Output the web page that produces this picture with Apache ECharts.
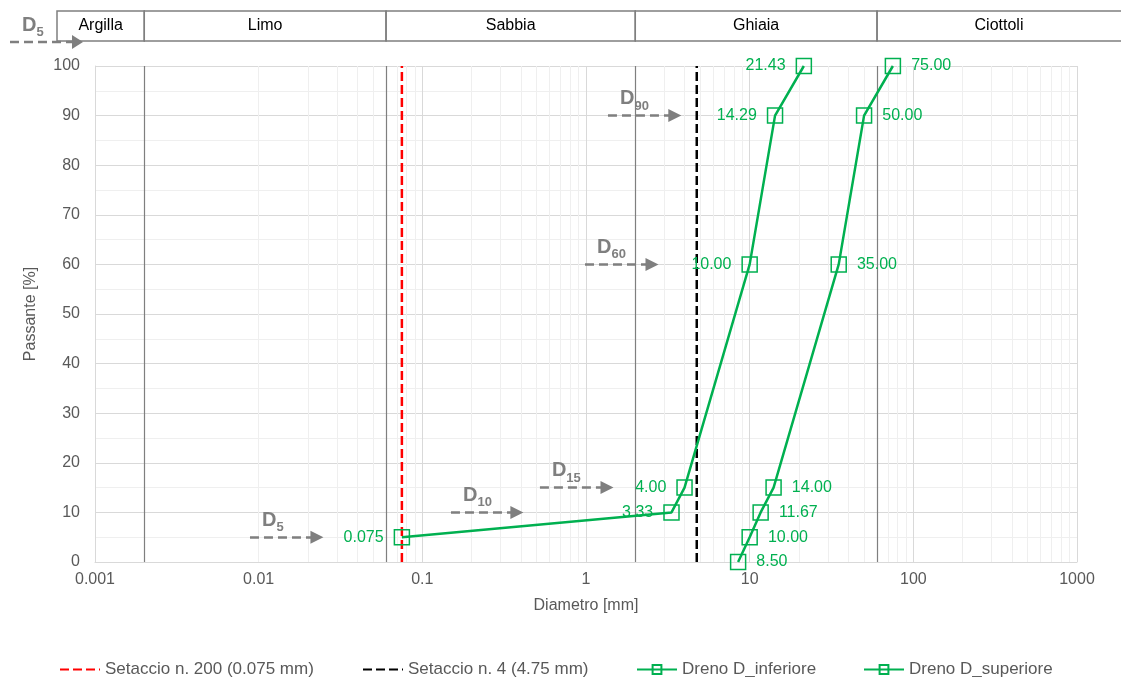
<!DOCTYPE html>
<html><head><meta charset="utf-8">
<script src="https://cdn.jsdelivr.net/npm/echarts@6/dist/echarts.min.js"></script>
<style>html,body{margin:0;padding:0;background:#fff}#c{width:1121px;height:677px}</style>
</head><body><div id="c"></div>
<script>
// ---- data ----
const xTickLabels = ['0.001','0.01','0.1','1','10','100','1000'];
const yTicks = [0,10,20,30,40,50,60,70,80,90,100];
const infD = [0.075, 3.33, 4.00, 10.00, 14.29, 21.43];
const infP = [5, 10, 15, 60, 90, 100];
const infLabels = ['0.075','3.33','4.00','10.00','14.29','21.43'];
const supD = [8.50, 10.00, 11.67, 14.00, 35.00, 50.00, 75.00];
const supP = [0, 5, 10, 15, 60, 90, 100];
const supLabels = ['8.50','10.00','11.67','14.00','35.00','50.00','75.00'];
const sieve200 = 0.075;
const sieve4 = 4.75;
const classNames = ['Argilla','Limo','Sabbia','Ghiaia','Ciottoli'];
const classBounds = [0.002, 0.06, 2, 60];
const dSubs = ['5','10','15','60','90'];
const dLevels = [5, 10, 15, 60, 90];
const dFrom = [0.00885, 0.1496, 0.523, 0.986, 1.362];
const dTo = [0.0227, 0.378, 1.344, 2.53, 3.49];

const GREEN = '#00b050';
const GRAY = '#7f7f7f';
const TXT = '#595959';
const FONT = 'Arial, "Liberation Sans", sans-serif';

// minor gridline positions (2..9 within each decade)
const minorX = [];
for (let e = -3; e < 3; e++) for (let k = 2; k <= 9; k++) minorX.push(+(k * Math.pow(10, e)).toPrecision(3));

const chart = echarts.init(document.getElementById('c'), null, {renderer: 'canvas'});

const dRich = {
  d: {fontSize: 20, fontWeight: 'bold', color: GRAY, fontFamily: FONT, padding: [0, 0, 4, 0]},
  s: {fontSize: 13, fontWeight: 'bold', color: GRAY, fontFamily: FONT, verticalAlign: 'bottom'}
};
const dRichG = {
  d: {fontSize: 20, fontWeight: 'bold', fill: GRAY, fontFamily: FONT, padding: [0, 0, 4, 0]},
  s: {fontSize: 13, fontWeight: 'bold', fill: GRAY, fontFamily: FONT, verticalAlign: 'bottom'}
};

const arrowLines = dSubs.map((s, i) => ([
  {coord: [dFrom[i], dLevels[i]], label: {formatter: '{d|D}{s|' + s + '}'}},
  {coord: [dTo[i], dLevels[i]]}
]));

const legendBase = {
  orient: 'horizontal', itemWidth: 40, itemHeight: 11, padding: 0,
  textStyle: {color: TXT, fontSize: 17, fontFamily: FONT}
};

const option = {
  animation: false,
  grid: {left: 95, right: 44, top: 66, bottom: 115},
  xAxis: {
    type: 'log', logBase: 10, min: 0.001, max: 1000,
    name: 'Diametro [mm]', nameLocation: 'middle', nameGap: 36,
    nameTextStyle: {color: TXT, fontSize: 16, fontFamily: FONT},
    axisLine: {show: true, lineStyle: {color: '#d9d9d9', width: 1}},
    axisTick: {show: false},
    axisLabel: {color: TXT, fontSize: 16, fontFamily: FONT, margin: 10,
      formatter: v => xTickLabels[Math.round(Math.log10(v)) + 3]},
    splitLine: {show: true, lineStyle: {color: '#d9d9d9', width: 1}},
    minorTick: {show: false}, minorSplitLine: {show: false}
  },
  yAxis: {
    type: 'value', min: 0, max: 100, interval: 10,
    name: 'Passante [%]', nameLocation: 'middle', nameGap: 56,
    nameTextStyle: {color: TXT, fontSize: 16, fontFamily: FONT},
    axisLine: {show: true, lineStyle: {color: '#d9d9d9', width: 1}},
    axisTick: {show: false},
    axisLabel: {color: TXT, fontSize: 16, fontFamily: FONT, margin: 15},
    splitLine: {show: true, lineStyle: {color: '#d9d9d9', width: 1}},
    minorTick: {show: false, splitNumber: 2},
    minorSplitLine: {show: true, lineStyle: {color: '#efefef', width: 1}}
  },
  legend: [
    Object.assign({data: [{name: 'Setaccio n. 200 (0.075 mm)', itemStyle: {opacity: 0}}], left: 59, top: 661}, legendBase),
    Object.assign({data: [{name: 'Setaccio n. 4 (4.75 mm)', itemStyle: {opacity: 0}}], left: 362, top: 661}, legendBase),
    Object.assign({data: ['Dreno D_inferiore'], left: 636, top: 661}, legendBase),
    Object.assign({data: ['Dreno D_superiore'], left: 863, top: 661}, legendBase)
  ],
  series: [
    { // minor vertical gridlines
      type: 'line', data: [], silent: true, z: 0,
      markLine: {silent: true, symbol: 'none', animation: false, label: {show: false},
        lineStyle: {color: '#efefef', width: 1, type: 'solid'},
        data: minorX.filter(v => classBounds.indexOf(v) < 0).map(v => ({xAxis: v}))}
    },
    { // soil class boundaries
      type: 'line', data: [], silent: true, z: 1,
      markLine: {silent: true, symbol: 'none', animation: false, label: {show: false},
        lineStyle: {color: GRAY, width: 1.2, type: 'solid'},
        data: classBounds.map(v => [{coord: [v, 0]}, {coord: [v, 100]}])}
    },
    { // D arrows
      type: 'line', data: [], silent: true, z: 3,
      markLine: {silent: true, symbol: ['none', 'triangle'], symbolSize: 13, animation: false,
        lineStyle: {color: GRAY, width: 2.5, type: [9, 5]},
        itemStyle: {color: GRAY},
        label: {show: true, position: 'insideStartTop', distance: [12, 3], rich: dRich},
        emphasis: {disabled: true},
        data: arrowLines}
    },
    {
      name: 'Setaccio n. 200 (0.075 mm)', type: 'line', z: 4,
      data: [[sieve200, 0], [sieve200, 100]],
      symbol: 'none', showSymbol: false, silent: true,
      lineStyle: {color: '#ff0000', width: 2.5, type: [9, 4]},
      itemStyle: {color: '#ff0000', opacity: 0}
    },
    {
      name: 'Setaccio n. 4 (4.75 mm)', type: 'line', z: 4,
      data: [[sieve4, 0], [sieve4, 100]],
      symbol: 'none', showSymbol: false, silent: true,
      lineStyle: {color: '#000000', width: 2.5, type: [9, 4]},
      itemStyle: {color: '#000000', opacity: 0}
    },
    {
      name: 'Dreno D_inferiore', type: 'line', z: 5,
      data: infD.map((d, i) => [d, infP[i]]),
      symbol: 'rect', symbolSize: 15, showAllSymbol: true,
      lineStyle: {color: GREEN, width: 2.5},
      itemStyle: {color: 'rgba(0,0,0,0)', borderColor: GREEN, borderWidth: 1.5},
      label: {show: true, position: 'left', distance: 10, color: GREEN, fontSize: 16, fontFamily: FONT,
        formatter: p => infLabels[p.dataIndex]}
    },
    {
      name: 'Dreno D_superiore', type: 'line', z: 5,
      data: supD.map((d, i) => [d, supP[i]]),
      symbol: 'rect', symbolSize: 15, showAllSymbol: true,
      lineStyle: {color: GREEN, width: 2.5},
      itemStyle: {color: 'rgba(0,0,0,0)', borderColor: GREEN, borderWidth: 1.5},
      label: {show: true, position: 'right', distance: 10, color: GREEN, fontSize: 16, fontFamily: FONT,
        formatter: p => supLabels[p.dataIndex]}
    }
  ]
};
chart.setOption(option);

// header band with soil classes, aligned to the x axis scale
const px = v => chart.convertToPixel({xAxisIndex: 0}, v);
const edges = [57].concat(classBounds.map(px)).concat([1121]);
const graphic = [];
for (let i = 0; i < classNames.length; i++) {
  const x0 = edges[i], x1 = edges[i + 1];
  graphic.push({type: 'rect', shape: {x: x0, y: 11, width: x1 - x0 + (i === classNames.length - 1 ? 2 : 0), height: 30},
    style: {fill: 'none', stroke: GRAY, lineWidth: 1.5}, silent: true});
  graphic.push({type: 'text', x: (x0 + x1) / 2, y: 26,
    style: {text: classNames[i], fill: '#000', fontSize: 16, fontFamily: FONT, align: 'center', verticalAlign: 'middle'}, silent: true});
}
// D5 arrow in header
graphic.push({type: 'line', shape: {x1: 10, y1: 42, x2: 74, y2: 42},
  style: {stroke: GRAY, lineWidth: 2.5, lineDash: [9, 5]}, silent: true});
graphic.push({type: 'polygon', shape: {points: [[72, 35], [83, 42], [72, 49]]}, style: {fill: GRAY}, silent: true});
graphic.push({type: 'text', x: 22, y: 39,
  style: {text: '{d|D}{s|5}', rich: dRichG, verticalAlign: 'bottom'}, silent: true});
chart.setOption({graphic: graphic});
</script>
</body></html>
